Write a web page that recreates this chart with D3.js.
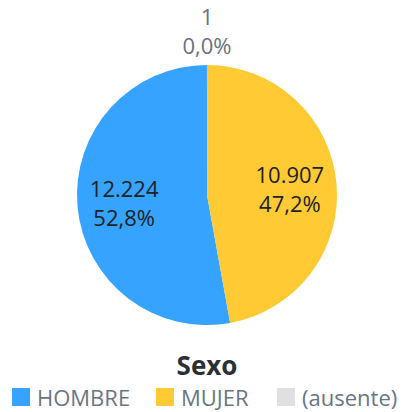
<!DOCTYPE html>
<html>
<head>
<meta charset="utf-8">
<script src="https://cdn.jsdelivr.net/npm/d3@7"></script>
<style>
  body { margin: 0; background: #fff; }
  svg { font-family: "Open Sans", sans-serif; }
</style>
</head>
<body>
<div id="chart"></div>
<script>
// Data
var categories = ["HOMBRE", "MUJER", "(ausente)"];
var values = [12224, 10907, 1];
var colors = ["#35a3ff", "#ffca33", "#e0e0e0"];
// slice order round the pie, clockwise from 12 o'clock
var pieOrder = ["MUJER", "HOMBRE", "(ausente)"];

var width = 402, height = 412;
var cx = 207, cy = 195, radius = 130;

var svg = d3.select("#chart").append("svg")
    .attr("width", width)
    .attr("height", height);

var total = d3.sum(values);
var data = categories.map(function(c, i) {
    return {name: c, value: values[i], color: colors[i]};
});

var pie = d3.pie()
    .value(function(d) { return d.value; })
    .sort(function(a, b) { return pieOrder.indexOf(a.name) - pieOrder.indexOf(b.name); });

var arc = d3.arc().innerRadius(0).outerRadius(radius);
var labelArc = d3.arc().innerRadius(radius * 0.64).outerRadius(radius * 0.64);
var outerArc = d3.arc().innerRadius(radius + 35).outerRadius(radius + 35);

var fmtNum = function(v) { return d3.format(",")(v).replace(/,/g, "."); };
var fmtPct = function(v) { return d3.format(".1f")(v * 100).replace(".", ",") + "%"; };

var g = svg.append("g")
    .attr("transform", "translate(" + cx + "," + cy + ")");

var arcs = pie(data);

g.selectAll("path")
    .data(arcs)
    .join("path")
    .attr("d", arc)
    .attr("fill", function(d) { return d.data.color; });

// Labels
arcs.forEach(function(d) {
    var inside = (d.endAngle - d.startAngle) > 0.3;
    var p = inside ? labelArc.centroid(d) : outerArc.centroid(d);
    var t = g.append("text")
        .attr("text-anchor", "middle")
        .attr("font-size", 22)
        .attr("fill", inside ? "#222" : "#6b7280");
    t.append("tspan")
        .attr("x", p[0])
        .attr("y", p[1] - 5)
        .text(fmtNum(d.data.value));
    t.append("tspan")
        .attr("x", p[0])
        .attr("y", p[1] + 24)
        .text(fmtPct(d.data.value / total));
});

// Legend title
svg.append("text")
    .attr("x", 207)
    .attr("y", 375)
    .attr("text-anchor", "middle")
    .attr("font-size", 26)
    .attr("font-weight", "bold")
    .attr("fill", "#2b2f36")
    .text("Sexo");

// Legend items
var legendX = [12, 156, 277];
var legend = svg.selectAll("g.legend")
    .data(data)
    .join("g")
    .attr("class", "legend")
    .attr("transform", function(d, i) { return "translate(" + legendX[i] + ",388)"; });

legend.append("rect")
    .attr("width", 18)
    .attr("height", 18)
    .attr("fill", function(d) { return d.color; });

legend.append("text")
    .attr("x", 25)
    .attr("y", 18)
    .attr("font-size", 22)
    .attr("fill", "#687587")
    .text(function(d) { return d.name; });
</script>
</body>
</html>
